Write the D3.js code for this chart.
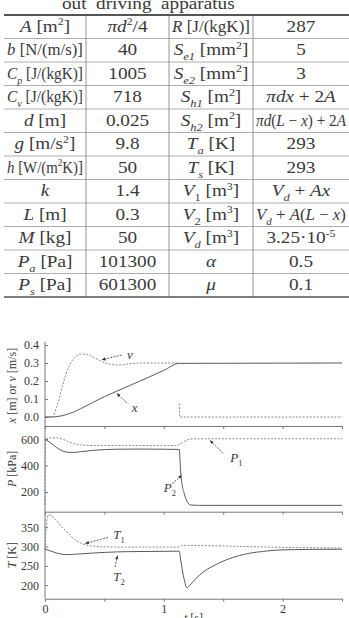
<!DOCTYPE html>
<html>
<head>
<meta charset="utf-8">
<script src="https://cdn.jsdelivr.net/npm/d3@7"></script>
<style>
  body { margin: 0; background: #fff; }
  svg { display: block; }
  text { font-family: 'Liberation Serif', 'Times New Roman', Times, serif; }
</style>
</head>
<body>
<svg id="fig" width="349" height="618"></svg>
<script>
// ---- table data (markup: *italic*, _{sub}, ^{sup}) ----
const paramNames = ['*A* [m^{2}]', '*b* [N/(m/s)]', '*C*_{p} [J/(kgK)]', '*C*_{v} [J/(kgK)]', '*d* [m]',
  '*g* [m/s^{2}]', '*h* [W/(m^{2}K)]', '*k*', '*L* [m]', '*M* [kg]', '*P*_{a} [Pa]', '*P*_{s} [Pa]'];
const paramValues = ['*πd*^{2}/4', '40', '1005', '718', '0.025', '9.8', '50', '1.4', '0.3', '50', '101300', '601300'];
const paramNames2 = ['*R* [J/(kgK)]', '*S*_{e1} [mm^{2}]', '*S*_{e2} [mm^{2}]', '*S*_{h1} [m^{2}]', '*S*_{h2} [m^{2}]',
  '*T*_{a} [K]', '*T*_{s} [K]', '*V*_{1} [m^{3}]', '*V*_{2} [m^{3}]', '*V*_{d} [m^{3}]', '*α*', '*μ*'];
const paramValues2 = ['287', '5', '3', '*πdx* + 2*A*', '*πd*(*L* − *x*) + 2*A*', '293', '293',
  '*V*_{d} + *Ax*', '*V*_{d} + *A*(*L* − *x*)', '3.25·10^{-5}', '0.5', '0.1'];

// ---- simulation curves ----
const xT   = [0, 0.06, 0.1, 0.15, 0.2, 0.25, 0.3, 0.4, 0.5, 0.6, 0.7, 0.8, 0.9, 1.0, 1.13, 2.5];
const xVal = [0, 0, 0.002, 0.008, 0.018, 0.03, 0.046, 0.08, 0.113, 0.142, 0.171, 0.2, 0.229, 0.259, 0.298, 0.3];

const vT   = [0, 0.06, 0.1, 0.15, 0.2, 0.25, 0.3, 0.35, 0.4, 0.45, 0.5, 0.55, 0.6, 0.65, 0.7, 0.8, 1.13, 1.13, 1.13, 1.135, 2.5];
const vVal = [0, 0, 0.06, 0.18, 0.28, 0.33, 0.35, 0.348, 0.335, 0.318, 0.303, 0.293, 0.289, 0.29, 0.295, 0.3, 0.3, null, 0.075, 0, 0];

const p1T   = [0, 0.005, 0.05, 0.1, 0.15, 0.2, 0.25, 0.3, 0.4, 0.5, 0.6, 0.8, 1.0, 1.1, 1.15, 1.2, 1.25, 1.4, 2.5];
const p1Val = [100, 600, 610, 610, 600, 580, 565, 557, 552, 552, 553, 552, 551, 552, 570, 595, 602, 603, 603];

const p2T   = [0, 0.05, 0.1, 0.15, 0.2, 0.25, 0.3, 0.4, 0.5, 0.6, 0.8, 1.0, 1.13, 1.14, 1.15, 1.17, 1.19, 1.21, 1.23, 1.3, 2.5];
const p2Val = [600, 570, 535, 510, 500, 500, 505, 515, 521, 524, 525, 524, 522, 380, 280, 195, 140, 110, 100, 98, 98];

const t1T   = [0, 0.01, 0.03, 0.06, 0.1, 0.13, 0.17, 0.21, 0.25, 0.3, 0.38, 0.5, 0.7, 1.0, 1.12, 1.15, 1.2, 1.4, 1.8, 2.5];
const t1Val = [293, 350, 382, 378, 365, 355, 342, 330, 318, 309, 302, 299, 298.5, 298.5, 298.5, 302, 303, 302, 299, 296];

const t2T   = [0, 0.05, 0.1, 0.18, 0.25, 0.4, 0.6, 0.8, 1.0, 1.13, 1.14, 1.15, 1.16, 1.17, 1.18, 1.195, 1.21, 1.25, 1.3,
  1.36, 1.45, 1.53, 1.63, 1.73, 1.83, 1.92, 2.1, 2.5];
const t2Val = [293, 288, 283, 279, 280, 283, 286, 287, 287.5, 288, 270, 250, 232, 217, 204, 193, 197, 210, 226,
  240, 255, 266, 276, 283, 287, 290, 292, 293];

const timeTicks = [0, 0.5, 1, 1.5, 2, 2.5];

const svg = d3.select('#fig');
const ink = '#3a3a3a';

// writes the little markup into a text element as tspans
const richText = function(textEl, str, size) {
  const parts = str.split(/(\*[^*]+\*|_\{[^}]*\}|\^\{[^}]*\})/).filter(s => s);
  let shift = 0;
  parts.forEach(p => {
    let txt = p;
    let italic = false;
    let dy = 0;
    let fs = size;
    if (p[0] === '*') {
      txt = p.slice(1, -1);
      italic = true;
    } else if (p[0] === '_') {
      txt = p.slice(2, -1);
      dy = size * 0.3;
      fs = size * 0.65;
      italic = /[a-z]/i.test(txt);
    } else if (p[0] === '^') {
      txt = p.slice(2, -1);
      dy = -size * 0.42;
      fs = size * 0.62;
    }
    const ts = textEl.append('tspan').text(txt).attr('font-size', fs).attr('dy', dy - shift);
    if (italic) ts.attr('font-style', 'italic');
    shift = dy;
  });
};

// ---- caption (cut at the top edge) ----
svg.append('text')
  .attr('transform', 'translate(62,9) scale(1.2,1)')
  .attr('font-size', 16)
  .attr('fill', ink)
  .attr('xml:space', 'preserve')
  .text('out  driving  apparatus');

// ---- table ----
const colEdges = [4, 86, 169, 253, 349];
const tableTop = 15;
const tableBottom = 297;
const rowY = d3.scaleBand().domain(d3.range(paramNames.length)).range([tableTop, tableBottom]);
const columns = [paramNames, paramValues, paramNames2, paramValues2];

const table = svg.append('g');
paramNames.forEach((_, i) => {
  if (i > 0) {
    table.append('line')
      .attr('x1', colEdges[0]).attr('x2', colEdges[4])
      .attr('y1', rowY(i)).attr('y2', rowY(i))
      .attr('stroke', '#999').attr('stroke-width', 0.8);
  }
});
colEdges.slice(1, 4).forEach(x => {
  table.append('line')
    .attr('x1', x).attr('x2', x)
    .attr('y1', tableTop).attr('y2', tableBottom)
    .attr('stroke', '#888').attr('stroke-width', 0.9);
});
table.append('line')
  .attr('x1', colEdges[0]).attr('x2', colEdges[4])
  .attr('y1', tableTop).attr('y2', tableTop)
  .attr('stroke', '#555').attr('stroke-width', 2);
table.append('line')
  .attr('x1', colEdges[0]).attr('x2', colEdges[4])
  .attr('y1', tableBottom).attr('y2', tableBottom)
  .attr('stroke', '#555').attr('stroke-width', 1.5);

columns.forEach((col, c) => {
  const cx = (colEdges[c] + colEdges[c + 1]) / 2;
  const maxW = colEdges[c + 1] - colEdges[c] - 6;
  col.forEach((cell, i) => {
    const cy = rowY(i) + rowY.bandwidth() / 2 + 5;
    const t = table.append('text')
      .attr('fill', ink)
      .attr('text-anchor', 'middle')
      .attr('xml:space', 'preserve');
    richText(t, cell, 16);
    const w = t.node().getComputedTextLength();
    const sx = Math.min(1.2, maxW / w);
    t.attr('transform', `translate(${cx},${cy}) scale(${sx},1)`);
  });
});

// ---- stacked plots ----
const plotLeft = 45;
const plotRight = 342;
const xScale = d3.scaleLinear().domain([0, 2.5]).range([plotLeft, plotRight]);

const panels = [
  { domain: [-0.05, 0.4], range: [426, 345], ticks: [0, 0.1, 0.2, 0.3, 0.4], fmt: d3.format('.1f'),
    label: '*x* [m] or *v* [m/s]' },
  { domain: [50, 700], range: [511.7, 426], ticks: [200, 400, 600], fmt: d3.format('d'), label: '*P* [kPa]' },
  { domain: [165, 390], range: [598.7, 511.7], ticks: [200, 250, 300, 350], fmt: d3.format('d'), label: '*T* [K]' }
];
panels.forEach(p => { p.y = d3.scaleLinear().domain(p.domain).range(p.range); });

const plots = svg.append('g');

// horizontal separators with time ticks
panels.forEach((p, i) => {
  const axis = d3.axisBottom(xScale)
    .tickValues(timeTicks)
    .tickSizeInner(3)
    .tickSizeOuter(0)
    .tickPadding(3)
    .tickFormat(d => (i === 2 && Number.isInteger(d) ? d : ''));
  const g = plots.append('g')
    .attr('transform', `translate(0,${p.range[0]})`)
    .call(axis);
  g.attr('font-family', null);
  g.select('.domain').attr('stroke', '#777').attr('stroke-width', 1);
  g.selectAll('.tick line').attr('stroke', '#777');
  g.selectAll('.tick text').attr('font-size', 12).attr('fill', ink);
});

// value axes
panels.forEach(p => {
  const axis = d3.axisLeft(p.y)
    .tickValues(p.ticks)
    .tickFormat(p.fmt)
    .tickSizeInner(-3)
    .tickSizeOuter(0)
    .tickPadding(6);
  const g = plots.append('g')
    .attr('transform', `translate(${plotLeft},0)`)
    .call(axis);
  g.attr('font-family', null);
  g.select('.domain').remove();
  g.selectAll('.tick line').attr('stroke', '#777');
  g.selectAll('.tick text').attr('font-size', 12).attr('fill', ink);

  const yl = plots.append('text')
    .attr('transform', `translate(16,${(p.range[0] + p.range[1]) / 2}) rotate(-90)`)
    .attr('text-anchor', 'middle')
    .attr('fill', ink);
  richText(yl, p.label, 12);
});
plots.append('line')
  .attr('x1', plotLeft).attr('x2', plotLeft)
  .attr('y1', 342).attr('y2', panels[2].range[0])
  .attr('stroke', '#777').attr('stroke-width', 1);

// time label, partly below the bottom edge as in the source
const tl = plots.append('text')
  .attr('x', xScale(1.17)).attr('y', 622)
  .attr('fill', ink);
richText(tl, '*t* [s]', 12);

// curves
const drawCurve = function(panel, ts, vals, dashed) {
  const pts = ts.map((t, i) => [t, vals[i]]);
  const line = d3.line()
    .defined(d => d[1] !== null)
    .x(d => xScale(d[0]))
    .y(d => panel.y(d[1]))
    .curve(d3.curveMonotoneX);
  plots.append('path')
    .datum(pts)
    .attr('d', line)
    .attr('fill', 'none')
    .attr('stroke', dashed ? '#8a8a8a' : '#5a5a5a')
    .attr('stroke-width', 1)
    .attr('stroke-dasharray', dashed ? '2,1.5' : null);
};

drawCurve(panels[0], vT, vVal, true);
drawCurve(panels[0], xT, xVal, false);
drawCurve(panels[1], p1T, p1Val, true);
drawCurve(panels[1], p2T, p2Val, false);
drawCurve(panels[2], t1T, t1Val, true);
drawCurve(panels[2], t2T, t2Val, false);

// annotations: label position, arrow tail, arrow head (data coordinates)
svg.append('defs').append('marker')
  .attr('id', 'arrowHead')
  .attr('viewBox', '0 0 10 10')
  .attr('refX', 9).attr('refY', 5)
  .attr('markerWidth', 5).attr('markerHeight', 5)
  .attr('orient', 'auto')
  .append('path')
  .attr('d', 'M0,1 L10,5 L0,9 Z')
  .attr('fill', '#333');

const notes = [
  { panel: 0, text: '*v*', at: [0.69, 0.344], from: [0.645, 0.344], to: [0.48, 0.318] },
  { panel: 0, text: '*x*', at: [0.73, 0.05], from: [0.69, 0.078], to: [0.605, 0.13] },
  { panel: 1, text: '*P*_{1}', at: [1.56, 455], from: [1.5, 492], to: [1.39, 590] },
  { panel: 1, text: '*P*_{2}', at: [1.0, 230], from: [1.07, 262], to: [1.15, 325] },
  { panel: 2, text: '*T*_{1}', at: [0.575, 330], from: [0.53, 323], to: [0.34, 308] },
  { panel: 2, text: '*T*_{2}', at: [0.575, 222], from: [0.59, 247], to: [0.61, 276] }
];
notes.forEach(n => {
  const y = panels[n.panel].y;
  plots.append('line')
    .attr('x1', xScale(n.from[0])).attr('y1', y(n.from[1]))
    .attr('x2', xScale(n.to[0])).attr('y2', y(n.to[1]))
    .attr('stroke', '#333').attr('stroke-width', 0.8)
    .attr('stroke-dasharray', '2,1.2')
    .attr('marker-end', 'url(#arrowHead)');
  const t = plots.append('text')
    .attr('x', xScale(n.at[0])).attr('y', y(n.at[1]) + 4)
    .attr('fill', ink);
  richText(t, n.text, 13);
});
</script>
</body>
</html>
